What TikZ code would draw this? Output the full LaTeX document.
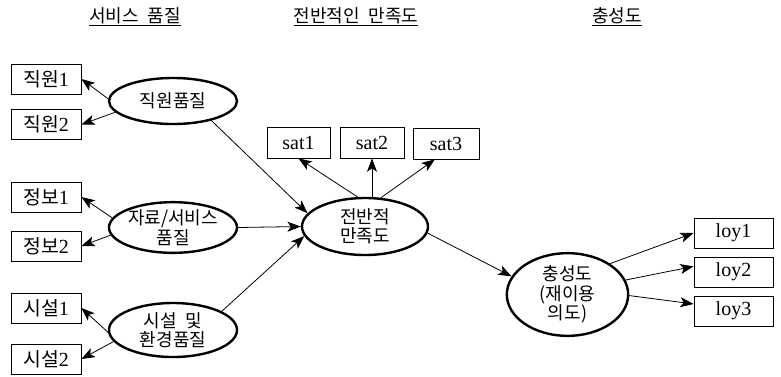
\documentclass[tikz,border=0pt]{standalone}
\usepackage{fontspec}
\setmainfont{Liberation Serif}
\newfontfamily\kr{Noto Sans CJK KR}
\usetikzlibrary{shapes.geometric,arrows.meta}
\newcommand\K[1]{{\kr\fontsize{14.5}{16}\selectfont #1}}
\begin{document}
\begin{tikzpicture}[x=0.75pt,y=-0.75pt,
  box/.style={draw, line width=0.6pt, minimum width=52.5pt, minimum height=22.5pt, inner sep=0pt, font=\fontsize{15}{16}\selectfont},
  lv/.style={draw, ellipse, line width=1.8pt, inner sep=0pt, align=center, font=\kr\fontsize{13.5}{14.5}\selectfont},
  ttl/.style={inner sep=0pt, font=\kr\fontsize{13.5}{15}\selectfont},
  arr/.style={-{Stealth[length=10pt,width=7.5pt,inset=2.5pt]}, line width=0.6pt}]
\useasboundingbox (0,0) rectangle (781,376);

% titles
\node[ttl] (t1) at (135,17) {\underline{서비스\hspace{.5em}품질}};
\node[ttl] (t2) at (356,17) {\underline{전반적인\hspace{.5em}만족도}};
\node[ttl] (t3) at (617,17) {\underline{충성도}};

% left boxes
\node[box] (j1) at (46,79) {\K{직원}1};
\node[box] (j2) at (46,124.5) {\K{직원}2};
\node[box] (i1) at (46,197) {\K{정보}1};
\node[box] (i2) at (46,246) {\K{정보}2};
\node[box] (s1) at (46,308) {\K{시설}1};
\node[box] (s2) at (46,359) {\K{시설}2};

% latent ellipses
\node[lv, minimum width=96pt, minimum height=34.5pt] (e1) at (173,101) {직원품질};
\node[lv, minimum width=96pt, minimum height=38pt] (e2) at (173,227.5) {자료/서비스\\품질};
\node[lv, minimum width=96pt, minimum height=40.5pt] (e3) at (173,330) {시설\hspace{.5em}및\\환경품질};
\node[lv, minimum width=94.5pt, minimum height=42.75pt] (sat) at (365,226.5) {전반적\\만족도};
\node[lv, minimum width=91pt, minimum height=62pt] (loy) at (567.5,294.5) {충성도\\(재이용\\의도)};

% sat boxes
\node[box, minimum width=47.25pt, minimum height=23.25pt] (sa1) at (298.5,142.5) {sat1};
\node[box, minimum width=48pt, minimum height=23.25pt] (sa2) at (372,142.5) {sat2};
\node[box, minimum width=49.5pt, minimum height=23.25pt] (sa3) at (446,143.5) {sat3};

% loy boxes
\node[box, minimum width=59.25pt] (l1) at (733.5,233) {loy1};
\node[box, minimum width=59.25pt] (l2) at (733.5,272) {loy2};
\node[box, minimum width=59.25pt] (l3) at (733.5,311) {loy3};

% measurement arrows
\draw[arr] (e1.178) -- (j1.east);
\draw[arr] (e1.191) -- (j2.east);
\draw[arr] (e2.171) -- (i1.east);
\draw[arr] (e2.187) -- (i2.east);
\draw[arr] (e3.182) -- (s1.east);
\draw[arr] (e3.191) -- (s2.east);

% structural arrows
\draw[arr] (e1.333) -- (sat.167);
\draw[arr] (e2.east) -- (sat.west);
\draw[arr] (e3.21) -- (sat.189);
\draw[arr] (sat.104) -- (sa1.south);
\draw[arr] (sa2.south |- sat.north) -- (sa2.south);
\draw[arr] (sat.61) -- (sa3.235);
\draw[arr] (sat.354) -- (loy.162);

\draw[arr] (loy.36) -- (l1.west);
\draw[arr] (loy.14) -- (l2.172);
\draw[arr] (loy.359) -- (l3.170);
\end{tikzpicture}
\end{document}
